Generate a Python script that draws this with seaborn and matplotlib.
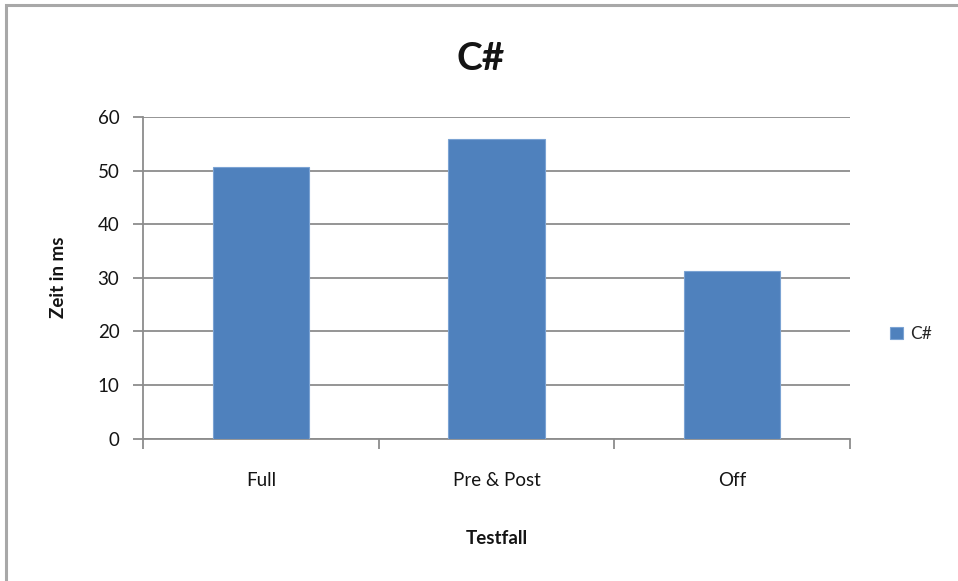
import matplotlib
matplotlib.use("Agg")
import matplotlib.pyplot as plt
import seaborn as sns
import pandas as pd
from matplotlib.patches import Rectangle

categories = ["Full", "Pre & Post", "Off"]
zeit_ms = [50.7, 55.9, 31.2]
series_name = "C#"
y_ticks = [0, 10, 20, 30, 40, 50, 60]

df = pd.DataFrame({"Testfall": categories, "Zeit": zeit_ms, "Serie": [series_name] * len(categories)})

sns.set_theme(style="white")
plt.rcParams["font.family"] = ["Lato", "DejaVu Sans"]

fig = plt.figure(figsize=(9.58, 5.81), dpi=100)
ax = fig.add_axes([143 / 958, (581 - 438.5) / 581, (850 - 143) / 958, (438.5 - 117) / 581])

grey = "#8c8c8c"
text_col = "#141414"
sns.barplot(data=df, x="Testfall", y="Zeit", hue="Serie", palette=["#4F81BD"], saturation=1,
            width=0.41, ax=ax, edgecolor="#7BA3D3", linewidth=0.8, zorder=3)

ax.set_ylim(0, 60)
ax.set_xlim(-0.5, len(categories) - 0.5)
ax.set_yticks(y_ticks)
ax.yaxis.grid(True, color=grey, linewidth=1.3, zorder=0)
ax.set_axisbelow(True)

for side in ["top", "right"]:
    ax.spines[side].set_visible(False)
for side in ["left", "bottom"]:
    ax.spines[side].set_color(grey)
    ax.spines[side].set_linewidth(1.3)

# y ticks point outward, x ticks sit between the categories
ax.tick_params(axis="y", which="major", direction="out", length=7, width=1.3, color=grey,
               left=True, pad=10, labelsize=13.5, labelcolor=text_col)
ax.set_xticks(range(len(categories)))
ax.set_xticklabels(categories)
ax.tick_params(axis="x", which="major", length=0, pad=24, labelsize=13.5, labelcolor=text_col)
ax.set_xticks([i - 0.5 for i in range(len(categories) + 1)], minor=True)
ax.tick_params(axis="x", which="minor", direction="out", length=7, width=1.3, color=grey, bottom=True)

ax.set_xlabel("Testfall", fontsize=13.5, fontweight="bold", labelpad=30, color=text_col)
ax.set_ylabel("Zeit in ms", fontsize=13.5, fontweight="bold", labelpad=22, color=text_col)
fig.text(481 / 958, 1 - 58 / 581, "C#", ha="center", va="center",
         fontsize=28, fontweight="bold", color=text_col)

ax.legend(loc="center left", bbox_to_anchor=(1.044, 0.325), frameon=False, fontsize=12.5,
          handlelength=0.75, handleheight=0.75, handletextpad=0.45, borderpad=0)

# chart frame
fig.patches.append(Rectangle((6 / 958, -0.02), 1.05, 1 - 5 / 581 + 0.02, transform=fig.transFigure,
                             fill=False, edgecolor="#a8a8a8", linewidth=2.2))

fig.savefig("out.png", dpi=100, facecolor="white")
